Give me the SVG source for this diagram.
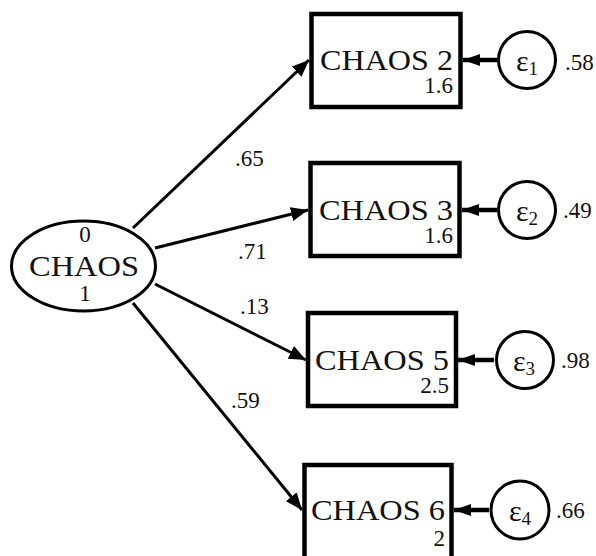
<svg xmlns="http://www.w3.org/2000/svg" width="596" height="556" viewBox="0 0 596 556">
<style>
  text { font-family: "Liberation Serif", "DejaVu Serif", serif; fill: #111; }
  .box { fill: #fff; stroke: #000; stroke-width: 4.5; }
  .err { fill: #fff; stroke: #000; stroke-width: 3; }
  .lat { fill: #fff; stroke: #000; stroke-width: 3; }
  .path { stroke: #000; stroke-width: 3; fill: none; }
  .epath { stroke: #000; stroke-width: 4.5; fill: none; }
  .big { font-size: 30px; }
  .num { font-size: 23px; }
  .eps { font-size: 30px; }
  .sub { font-size: 19px; }
</style>
<defs>
  <marker id="ah" markerUnits="userSpaceOnUse" markerWidth="18" markerHeight="14" refX="17" refY="7" orient="auto">
    <path d="M0,0 L17,7 L0,14 z" fill="#000"/>
  </marker>
  <marker id="eh" markerUnits="userSpaceOnUse" markerWidth="18" markerHeight="14" refX="17" refY="7" orient="auto">
    <path d="M0,1 L17,7 L0,13 z" fill="#000"/>
  </marker>
</defs>

<g id="connectors">
  <line class="path" x1="133" y1="228" x2="309" y2="60" marker-end="url(#ah)"/>
  <line class="path" x1="155" y1="248" x2="308" y2="210" marker-end="url(#ah)"/>
  <line class="path" x1="155" y1="284" x2="306" y2="360" marker-end="url(#ah)"/>
  <line class="path" x1="133" y1="303" x2="302" y2="510" marker-end="url(#ah)"/>
  <line class="epath" x1="497" y1="60" x2="463" y2="60" marker-end="url(#eh)"/>
  <line class="epath" x1="497" y1="210" x2="462" y2="210" marker-end="url(#eh)"/>
  <line class="epath" x1="494" y1="360" x2="458" y2="360" marker-end="url(#eh)"/>
  <line class="epath" x1="489" y1="510" x2="454" y2="510" marker-end="url(#eh)"/>
  <text class="num" x="235" y="166">.65</text>
  <text class="num" x="238" y="259">.71</text>
  <text class="num" x="240" y="314">.13</text>
  <text class="num" x="231" y="408">.59</text>
</g>

<g id="chaos">
  <ellipse class="lat" cx="83.5" cy="266" rx="72" ry="45"/>
  <text class="num" x="85" y="242" text-anchor="middle">0</text>
  <text class="big" x="29" y="276" textLength="110" lengthAdjust="spacingAndGlyphs">CHAOS</text>
  <text class="num" x="85" y="301" text-anchor="middle">1</text>
</g>

<g id="chaos2">
  <rect class="box" x="311.5" y="14" width="149" height="93"/>
  <text class="big" x="320" y="70" textLength="133" lengthAdjust="spacingAndGlyphs">CHAOS 2</text>
  <text class="num" x="453" y="93" text-anchor="end">1.6</text>
</g>
<g id="chaos3">
  <rect class="box" x="310.5" y="163" width="149" height="93"/>
  <text class="big" x="319" y="220" textLength="134" lengthAdjust="spacingAndGlyphs">CHAOS 3</text>
  <text class="num" x="453" y="243" text-anchor="end">1.6</text>
</g>
<g id="chaos5">
  <rect class="box" x="308" y="313" width="148" height="93"/>
  <text class="big" x="315" y="370" textLength="134" lengthAdjust="spacingAndGlyphs">CHAOS 5</text>
  <text class="num" x="449" y="393" text-anchor="end">2.5</text>
</g>
<g id="chaos6">
  <rect class="box" x="304.5" y="465" width="147" height="100"/>
  <text class="big" x="311" y="520" textLength="134" lengthAdjust="spacingAndGlyphs">CHAOS 6</text>
  <text class="num" x="445" y="546" text-anchor="end">2</text>
</g>

<g id="e1">
  <circle class="err" cx="527" cy="60" r="28.5"/>
  <text class="eps" x="527" y="71" text-anchor="middle">ε<tspan class="sub" dy="4">1</tspan></text>
  <text class="num" x="565" y="70">.58</text>
</g>
<g id="e2">
  <circle class="err" cx="527" cy="210" r="28.5"/>
  <text class="eps" x="527" y="221" text-anchor="middle">ε<tspan class="sub" dy="4">2</tspan></text>
  <text class="num" x="563" y="218">.49</text>
</g>
<g id="e3">
  <circle class="err" cx="525" cy="360" r="28.5"/>
  <text class="eps" x="524" y="371" text-anchor="middle">ε<tspan class="sub" dy="4">3</tspan></text>
  <text class="num" x="561" y="368">.98</text>
</g>
<g id="e4">
  <circle class="err" cx="520" cy="510" r="29"/>
  <text class="eps" x="520" y="521" text-anchor="middle">ε<tspan class="sub" dy="4">4</tspan></text>
  <text class="num" x="556" y="518">.66</text>
</g>
</svg>
